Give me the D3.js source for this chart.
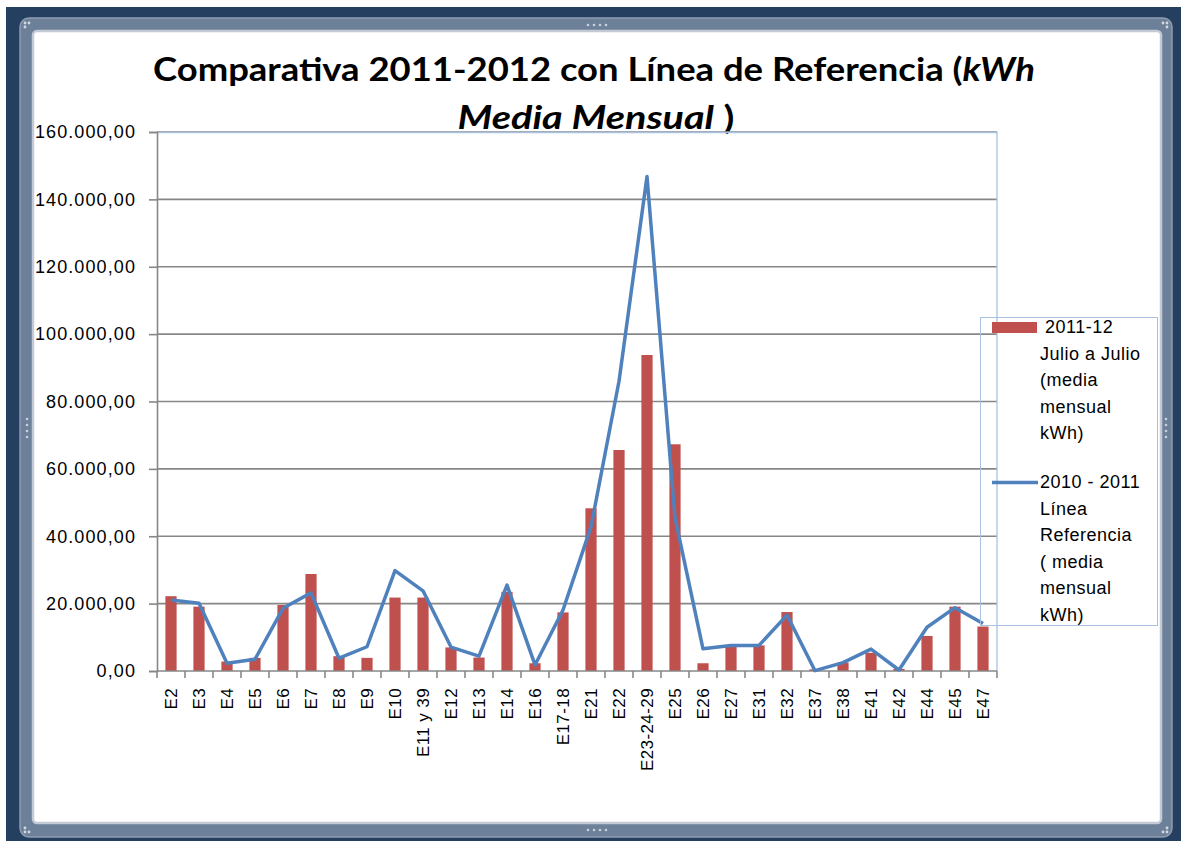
<!DOCTYPE html>
<html>
<head>
<meta charset="utf-8">
<script src="https://cdn.jsdelivr.net/npm/d3@7"></script>
<style>
  body { margin: 0; background: #fff; }
  text { font-family: "Liberation Sans", Arial, sans-serif; fill: #000; }
  .title { font-family: Lato, "Open Sans", sans-serif; font-weight: 700; font-size: 32px; }
  .tick text { font-size: 18px; letter-spacing: 1.1px; }
  .legend_labels { font-size: 18px; letter-spacing: 0.5px; }
</style>
</head>
<body>
<script>
// ---------------- data ----------------
var categories = ["E2", "E3", "E4", "E5", "E6", "E7", "E8", "E9", "E10", "E11 y 39",
                  "E12", "E13", "E14", "E16", "E17-18", "E21", "E22", "E23-24-29", "E25", "E26",
                  "E27", "E31", "E32", "E37", "E38", "E41", "E42", "E44", "E45", "E47"];

// 2011-12 Julio a Julio (barras)
var values2011 = [22200, 19100, 2800, 3900, 19600, 28800, 4400, 3900, 21800, 21800,
                  7000, 4000, 23500, 2300, 17400, 48300, 65600, 93800, 67300, 2300,
                  7400, 7600, 17500, 500, 2500, 5400, 600, 10400, 19100, 13200];

// 2010 - 2011 Línea Referencia (línea)
var values2010 = [21100, 20100, 2300, 3500, 18600, 23200, 3800, 7200, 29800, 23800,
                  7100, 4400, 25500, 1800, 18100, 42800, 86000, 146800, 45500, 6600,
                  7600, 7600, 16600, 100, 2500, 6500, 300, 13000, 18800, 14100];

var yTicks = [0, 20000, 40000, 60000, 80000, 100000, 120000, 140000, 160000];

var legendBars = ["2011-12", "Julio a Julio", "(media", "mensual", "kWh)"];
var legendLine = ["2010 - 2011", "Línea", "Referencia", "( media", "mensual", "kWh)"];

// ---------------- sizes ----------------
var W = 1181, H = 841;
var margin = {top: 132, left: 157},
    w = 840,
    h = 539;

var barColor = "#c0504d",
    lineColor = "#4f81bd",
    gridColor = "#878787",
    borderBlue = "#a9c1e3";

var svg = d3.select("body")
            .append("svg")
            .attr("width", W)
            .attr("height", H);

// -------------- window frame ----------------
svg.append("rect")
    .attr("x", 6).attr("y", 7)
    .attr("width", W - 6).attr("height", H - 7)
    .attr("fill", "#243f60");

svg.append("rect")
    .attr("x", 20).attr("y", 18)
    .attr("width", 1152).attr("height", 819)
    .attr("rx", 9)
    .attr("fill", "#6d8099")
    .attr("stroke", "#8e9cb1")
    .attr("stroke-width", 1.5);

svg.append("rect")
    .attr("x", 33).attr("y", 31)
    .attr("width", 1128).attr("height", 792)
    .attr("rx", 4)
    .attr("fill", "#fff")
    .attr("stroke", "#c3cad5")
    .attr("stroke-width", 2.5);

// grip dots
var grips = [[597, 25, "h"], [597, 830, "h"], [27, 428, "v"], [1166, 428, "v"]];
grips.forEach(function(gp) {
    d3.range(4).forEach(function(i) {
        svg.append("circle")
            .attr("cx", gp[2] == "h" ? gp[0] - 9 + i * 6 : gp[0])
            .attr("cy", gp[2] == "h" ? gp[1] : gp[1] - 9 + i * 6)
            .attr("r", 1.3)
            .attr("fill", "#c9d0da");
    });
});
[[27, 25], [1165, 25], [27, 830], [1165, 830]].forEach(function(c) {
    [[-2, -2], [2, -2], [-2, 2]].forEach(function(o, i) {
        svg.append("circle")
            .attr("cx", c[0] + (c[0] > 600 ? -o[0] : o[0]))
            .attr("cy", c[1] + (c[1] > 400 ? -o[1] : o[1]))
            .attr("r", 1.4)
            .attr("fill", "#d3d9e1");
    });
});

// -------------- title ----------------
var title = svg.append("text")
    .attr("class", "title")
    .attr("x", 594)
    .attr("y", 81)
    .attr("text-anchor", "middle")
    .attr("textLength", 882)
    .attr("lengthAdjust", "spacingAndGlyphs");
title.append("tspan").text("Comparativa 2011-2012 con Línea de Referencia  (");
title.append("tspan").style("font-style", "italic").text("kWh");

var title2 = svg.append("text")
    .attr("class", "title")
    .attr("x", 596)
    .attr("y", 129)
    .attr("text-anchor", "middle")
    .attr("textLength", 277)
    .attr("lengthAdjust", "spacingAndGlyphs");
title2.append("tspan").style("font-style", "italic").text("Media Mensual");
title2.append("tspan").text(" )");

// -------------- chart ----------------
var g = svg.append("g")
    .attr("transform", "translate(" + margin.left + "," + margin.top + ")");

var x = d3.scaleBand()
    .domain(categories)
    .range([0, w])
    .padding(0);

var y = d3.scaleLinear()
    .domain([0, 160000])
    .range([h, 0]);

var locale = d3.formatLocale({decimal: ",", thousands: ".", grouping: [3], currency: ["", "€"]});
var fmt = locale.format(",.2f");

// gridlines
g.append("g")
    .selectAll("line")
    .data(yTicks.filter(function(d) { return d > 0; }))
    .enter()
    .append("line")
        .attr("x1", 0)
        .attr("x2", w)
        .attr("y1", function(d) { return y(d); })
        .attr("y2", function(d) { return y(d); })
        .attr("stroke", gridColor)
        .attr("stroke-width", 1.6);

// plot area border (top / right)
g.append("path")
    .attr("d", "M0,0.5H" + w + "V" + h)
    .attr("fill", "none")
    .attr("stroke", borderBlue)
    .attr("stroke-width", 1.3);

// y axis
var yAxis = g.append("g")
    .call(d3.axisLeft(y).tickValues(yTicks).tickFormat(fmt).tickSize(8).tickPadding(13));
yAxis.select(".domain").attr("stroke", gridColor).attr("stroke-width", 1.6);
yAxis.selectAll(".tick line").attr("stroke", gridColor).attr("stroke-width", 1.6);

// bars
var barW = x.bandwidth() * 0.4;
g.append("g")
    .selectAll("rect")
    .data(values2011)
    .enter()
    .append("rect")
        .attr("x", function(d, i) { return x(categories[i]) + (x.bandwidth() - barW) / 2; })
        .attr("y", function(d) { return y(d); })
        .attr("width", barW)
        .attr("height", function(d) { return h - y(d); })
        .attr("fill", barColor);

// x axis
var xAxis = g.append("g")
    .attr("transform", "translate(0," + h + ")")
    .call(d3.axisBottom(x).tickSize(0));
xAxis.select(".domain").remove();
xAxis.selectAll(".tick text")
    .attr("transform", "rotate(-90)")
    .attr("text-anchor", "end")
    .attr("x", -17)
    .attr("y", 0)
    .attr("dy", "0.35em")
    .style("font-size", "17px")
    .style("letter-spacing", "0.4px");

g.append("line")
    .attr("x1", 0).attr("x2", w)
    .attr("y1", h).attr("y2", h)
    .attr("stroke", gridColor)
    .attr("stroke-width", 1.6);

g.append("g")
    .selectAll("line")
    .data(categories.concat([null]))
    .enter()
    .append("line")
        .attr("x1", function(d) { return d == null ? w : x(d); })
        .attr("x2", function(d) { return d == null ? w : x(d); })
        .attr("y1", h)
        .attr("y2", h + 7)
        .attr("stroke", gridColor)
        .attr("stroke-width", 1.6);

// reference line
var line = d3.line()
    .x(function(d, i) { return x(categories[i]) + x.bandwidth() / 2; })
    .y(function(d) { return y(d); });

g.append("path")
    .datum(values2010)
    .attr("d", line)
    .attr("fill", "none")
    .attr("stroke", lineColor)
    .attr("stroke-width", 3.5)
    .attr("stroke-linejoin", "round");

// -------------- legend ----------------
var legend = svg.append("g");
legend.append("rect")
    .attr("x", 980.5).attr("y", 317.5)
    .attr("width", 177).attr("height", 308)
    .attr("fill", "none")
    .attr("stroke", borderBlue)
    .attr("stroke-width", 1);

legend.append("rect")
    .attr("x", 992).attr("y", 322)
    .attr("width", 45).attr("height", 11)
    .attr("fill", barColor);

legend.append("line")
    .attr("x1", 992).attr("x2", 1038)
    .attr("y1", 482.5).attr("y2", 482.5)
    .attr("stroke", lineColor)
    .attr("stroke-width", 3.5);

legend.selectAll(".lb1")
    .data(legendBars)
    .enter()
    .append("text")
    .classed("legend_labels", true)
        .attr("x", function(d, i) { return i == 0 ? 1045 : 1040; })
        .attr("y", function(d, i) { return 333 + i * 26.6; })
        .text(function(d) { return d; });

legend.selectAll(".lb2")
    .data(legendLine)
    .enter()
    .append("text")
    .classed("legend_labels", true)
        .attr("x", 1040)
        .attr("y", function(d, i) { return 488 + i * 26.6; })
        .text(function(d) { return d; });
</script>
</body>
</html>
